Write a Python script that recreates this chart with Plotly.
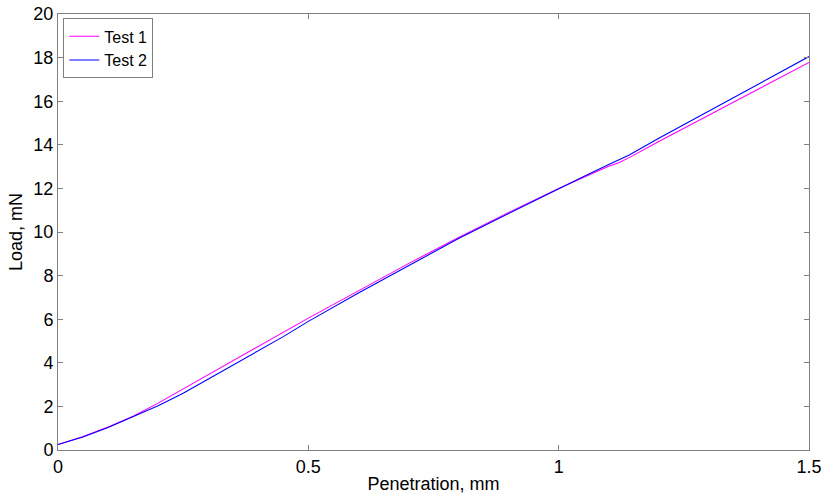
import plotly.graph_objects as go

penetration = [0, 0.05, 0.1, 0.15, 0.2, 0.25, 0.3, 0.35, 0.4, 0.45, 0.5, 0.6, 0.7, 0.8, 0.9, 1.0, 1.05, 1.1, 1.12, 1.14, 1.2, 1.3, 1.4, 1.5]
test1 = [0.25, 0.62, 1.05, 1.55, 2.15, 2.8, 3.45, 4.1, 4.75, 5.4, 6.05, 7.3, 8.55, 9.75, 10.9, 12.0, 12.52, 13.02, 13.18, 13.4, 14.15, 15.35, 16.57, 17.78]
test2 = [0.25, 0.6, 1.03, 1.52, 2.03, 2.6, 3.25, 3.9, 4.55, 5.2, 5.9, 7.2, 8.45, 9.7, 10.85, 12.0, 12.55, 13.1, 13.3, 13.52, 14.3, 15.55, 16.8, 18.05]
x_ticks = [0, 0.5, 1, 1.5]
y_ticks = [0, 2, 4, 6, 8, 10, 12, 14, 16, 18, 20]

FONT = "Liberation Sans, Arial, sans-serif"
FS = 18

fig = go.Figure()
fig.add_trace(go.Scatter(x=penetration, y=test1, mode="lines", name="Test 1",
                         line=dict(color="#ff00ff", width=1.1)))
fig.add_trace(go.Scatter(x=penetration, y=test2, mode="lines", name="Test 2",
                         line=dict(color="#0000ff", width=1.1)))

axis_common = dict(showline=True, linecolor="#808080", linewidth=1, mirror="ticks",
                   ticks="inside", ticklen=5, tickcolor="#808080", showgrid=False,
                   zeroline=False, automargin=False,
                   tickfont=dict(family=FONT, size=FS, color="black"))

fig.update_layout(
    width=824, height=494,
    margin=dict(l=58, r=15, t=14, b=44),
    paper_bgcolor="white", plot_bgcolor="white",
    font=dict(family=FONT, size=FS, color="black"),
    xaxis=dict(range=[0, 1.5], tickvals=x_ticks, ticktext=["0", "0.5", "1", "1.5"],
               title=dict(text="Penetration, mm", font=dict(family=FONT, size=FS), standoff=2),
               **axis_common),
    yaxis=dict(range=[0, 20], tickvals=y_ticks,
               title=dict(text="Load, mN", font=dict(family=FONT, size=FS), standoff=6),
               **axis_common),
    legend=dict(x=0.007, y=0.99, xanchor="left", yanchor="top",
                bordercolor="#808080", borderwidth=1, bgcolor="white",
                font=dict(family=FONT, size=16), tracegroupgap=0,
                itemwidth=30),
    showlegend=True,
)

fig.write_html("out.html")
